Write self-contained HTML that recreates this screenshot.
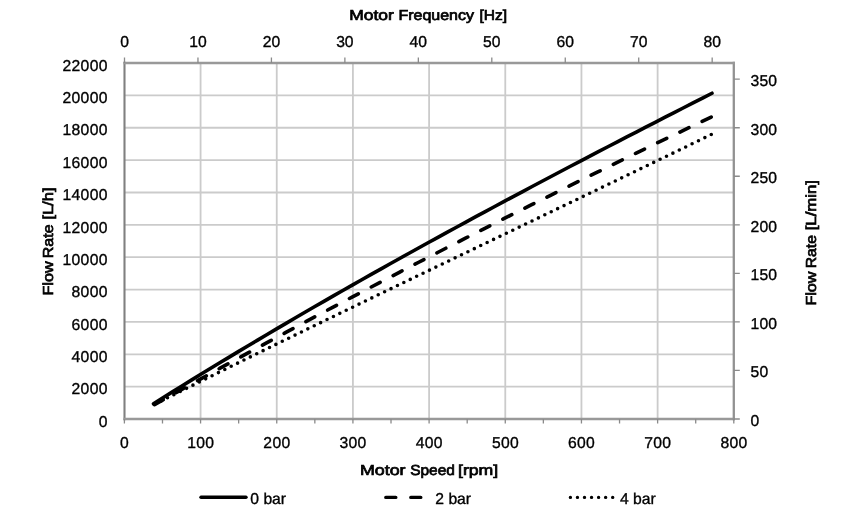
<!DOCTYPE html><html><head><meta charset="utf-8"><style>html,body{margin:0;padding:0;background:#fff;width:859px;height:513px;overflow:hidden}svg{display:block;will-change:transform}text{font-family:"Liberation Sans",sans-serif;text-rendering:geometricPrecision;fill:#000;stroke:#000;stroke-width:0.35px}</style></head><body>
<svg width="859" height="513" viewBox="0 0 859 513">
<rect width="859" height="513" fill="#fff"/>
<path d="M200.57,63.0 V419.0 M276.75,63.0 V419.0 M352.92,63.0 V419.0 M429.10,63.0 V419.0 M505.27,63.0 V419.0 M581.45,63.0 V419.0 M657.62,63.0 V419.0 M124.4,386.64 H733.8 M124.4,354.28 H733.8 M124.4,321.92 H733.8 M124.4,289.56 H733.8 M124.4,257.20 H733.8 M124.4,224.84 H733.8 M124.4,192.48 H733.8 M124.4,160.12 H733.8 M124.4,127.76 H733.8 M124.4,95.40 H733.8" stroke="#cbcbcb" stroke-width="1.8" fill="none"/>
<path d="M124.5,61.7 V420.25" stroke="#808080" stroke-width="2.1" fill="none"/>
<path d="M123.45,419 H734.9499999999999" stroke="#999" stroke-width="2.4" fill="none"/>
<path d="M733.8,61.7 V420.25" stroke="#929292" stroke-width="2.3" fill="none"/>
<path d="M123.45,63 H734.9499999999999" stroke="#999" stroke-width="2.4" fill="none"/>
<path d="M124.40,419.0 V423.5 M162.49,419.0 V423.5 M200.57,419.0 V423.5 M238.66,419.0 V423.5 M276.75,419.0 V423.5 M314.84,419.0 V423.5 M352.92,419.0 V423.5 M391.01,419.0 V423.5 M429.10,419.0 V423.5 M467.19,419.0 V423.5 M505.27,419.0 V423.5 M543.36,419.0 V423.5 M581.45,419.0 V423.5 M619.54,419.0 V423.5 M657.62,419.0 V423.5 M695.71,419.0 V423.5 M733.80,419.0 V423.5 M124.50,63.0 V57.5 M197.96,63.0 V57.5 M271.42,63.0 V57.5 M344.88,63.0 V57.5 M418.34,63.0 V57.5 M491.80,63.0 V57.5 M565.26,63.0 V57.5 M638.72,63.0 V57.5 M712.18,63.0 V57.5 M733.8,419.00 H739.8 M733.8,370.45 H739.8 M733.8,321.91 H739.8 M733.8,273.36 H739.8 M733.8,224.82 H739.8 M733.8,176.27 H739.8 M733.8,127.73 H739.8 M733.8,79.18 H739.8" stroke="#8a8a8a" stroke-width="1.3" fill="none"/>
<path d="M153.50,403.68 L162.97,397.75 L172.43,391.85 L181.90,385.98 L191.36,380.15 L200.83,374.34 L210.30,368.56 L219.76,362.81 L229.23,357.09 L238.69,351.40 L248.16,345.73 L257.63,340.09 L267.09,334.48 L276.56,328.89 L286.03,323.33 L295.49,317.80 L304.96,312.29 L314.42,306.80 L323.89,301.34 L333.36,295.91 L342.82,290.49 L352.29,285.10 L361.75,279.73 L371.22,274.39 L380.69,269.06 L390.15,263.76 L399.62,258.48 L409.08,253.22 L418.55,247.98 L428.02,242.76 L437.48,237.55 L446.95,232.37 L456.42,227.21 L465.88,222.06 L475.35,216.93 L484.81,211.82 L494.28,206.72 L503.75,201.64 L513.21,196.58 L522.68,191.54 L532.14,186.50 L541.61,181.49 L551.08,176.49 L560.54,171.50 L570.01,166.52 L579.47,161.56 L588.94,156.61 L598.41,151.68 L607.87,146.75 L617.34,141.84 L626.81,136.94 L636.27,132.05 L645.74,127.16 L655.20,122.29 L664.67,117.43 L674.14,112.58 L683.60,107.74 L693.07,102.90 L702.53,98.07 L712.00,93.25" stroke="#000" stroke-width="3.6" fill="none" stroke-linecap="round" stroke-linejoin="round"/>
<path d="M153.50,405.24 L162.95,399.94 L172.41,394.65 L181.86,389.38 L191.32,384.12 L200.77,378.89 L210.23,373.66 L219.68,368.45 L229.13,363.26 L238.59,358.08 L248.04,352.92 L257.50,347.77 L266.95,342.64 L276.41,337.52 L285.86,332.42 L295.31,327.33 L304.77,322.25 L314.22,317.19 L323.68,312.15 L333.13,307.12 L342.58,302.10 L352.04,297.10 L361.49,292.12 L370.95,287.14 L380.40,282.18 L389.86,277.24 L399.31,272.31 L408.76,267.39 L418.22,262.49 L427.67,257.60 L437.13,252.73 L446.58,247.86 L456.04,243.02 L465.49,238.18 L474.94,233.36 L484.40,228.55 L493.85,223.76 L503.31,218.98 L512.76,214.21 L522.22,209.46 L531.67,204.72 L541.12,199.99 L550.58,195.27 L560.03,190.57 L569.49,185.88 L578.94,181.20 L588.39,176.54 L597.85,171.89 L607.30,167.25 L616.76,162.62 L626.21,158.01 L635.67,153.41 L645.12,148.82 L654.57,144.24 L664.03,139.67 L673.48,135.12 L682.94,130.58 L692.39,126.05 L701.85,121.53 L711.30,117.03" stroke="#000" stroke-width="3.6" fill="none" stroke-linecap="round" stroke-dasharray="10 14.67" stroke-dashoffset="-1.12"/>
<path d="M153.50,404.79 L162.96,400.07 L172.43,395.36 L181.89,390.66 L191.35,385.96 L200.81,381.28 L210.28,376.61 L219.74,371.94 L229.20,367.28 L238.66,362.63 L248.13,357.99 L257.59,353.36 L267.05,348.73 L276.52,344.11 L285.98,339.50 L295.44,334.89 L304.90,330.29 L314.37,325.70 L323.83,321.11 L333.29,316.52 L342.75,311.94 L352.22,307.37 L361.68,302.80 L371.14,298.23 L380.61,293.67 L390.07,289.11 L399.53,284.55 L408.99,280.00 L418.46,275.45 L427.92,270.91 L437.38,266.36 L446.84,261.82 L456.31,257.28 L465.77,252.73 L475.23,248.20 L484.69,243.66 L494.16,239.12 L503.62,234.58 L513.08,230.04 L522.55,225.51 L532.01,220.97 L541.47,216.43 L550.93,211.89 L560.40,207.34 L569.86,202.80 L579.32,198.25 L588.78,193.71 L598.25,189.15 L607.71,184.60 L617.17,180.04 L626.64,175.48 L636.10,170.92 L645.56,166.35 L655.02,161.78 L664.49,157.20 L673.95,152.62 L683.41,148.03 L692.87,143.44 L702.34,138.84 L711.80,134.24" stroke="#000" stroke-width="3.6" fill="none" stroke-linecap="round" stroke-dasharray="0 7.108" stroke-dashoffset="-1.41"/>
<text x="107.85" y="426.70" text-anchor="end" font-size="15.7" letter-spacing="0.35">0</text>
<text x="107.85" y="394.34" text-anchor="end" font-size="15.7" letter-spacing="0.35">2000</text>
<text x="107.85" y="361.98" text-anchor="end" font-size="15.7" letter-spacing="0.35">4000</text>
<text x="107.85" y="329.62" text-anchor="end" font-size="15.7" letter-spacing="0.35">6000</text>
<text x="107.85" y="297.26" text-anchor="end" font-size="15.7" letter-spacing="0.35">8000</text>
<text x="107.85" y="264.90" text-anchor="end" font-size="15.7" letter-spacing="0.35">10000</text>
<text x="107.85" y="232.54" text-anchor="end" font-size="15.7" letter-spacing="0.35">12000</text>
<text x="107.85" y="200.18" text-anchor="end" font-size="15.7" letter-spacing="0.35">14000</text>
<text x="107.85" y="167.82" text-anchor="end" font-size="15.7" letter-spacing="0.35">16000</text>
<text x="107.85" y="135.46" text-anchor="end" font-size="15.7" letter-spacing="0.35">18000</text>
<text x="107.85" y="103.10" text-anchor="end" font-size="15.7" letter-spacing="0.35">20000</text>
<text x="107.85" y="70.74" text-anchor="end" font-size="15.7" letter-spacing="0.35">22000</text>
<text x="124.55" y="448.2" text-anchor="middle" font-size="15.7" letter-spacing="0.3">0</text>
<text x="200.72" y="448.2" text-anchor="middle" font-size="15.7" letter-spacing="0.3">100</text>
<text x="276.90" y="448.2" text-anchor="middle" font-size="15.7" letter-spacing="0.3">200</text>
<text x="353.07" y="448.2" text-anchor="middle" font-size="15.7" letter-spacing="0.3">300</text>
<text x="429.25" y="448.2" text-anchor="middle" font-size="15.7" letter-spacing="0.3">400</text>
<text x="505.42" y="448.2" text-anchor="middle" font-size="15.7" letter-spacing="0.3">500</text>
<text x="581.60" y="448.2" text-anchor="middle" font-size="15.7" letter-spacing="0.3">600</text>
<text x="657.77" y="448.2" text-anchor="middle" font-size="15.7" letter-spacing="0.3">700</text>
<text x="733.95" y="448.2" text-anchor="middle" font-size="15.7" letter-spacing="0.3">800</text>
<text x="124.50" y="47.4" text-anchor="middle" font-size="15.7">0</text>
<text x="197.96" y="47.4" text-anchor="middle" font-size="15.7">10</text>
<text x="271.42" y="47.4" text-anchor="middle" font-size="15.7">20</text>
<text x="344.88" y="47.4" text-anchor="middle" font-size="15.7">30</text>
<text x="418.34" y="47.4" text-anchor="middle" font-size="15.7">40</text>
<text x="491.80" y="47.4" text-anchor="middle" font-size="15.7">50</text>
<text x="565.26" y="47.4" text-anchor="middle" font-size="15.7">60</text>
<text x="638.72" y="47.4" text-anchor="middle" font-size="15.7">70</text>
<text x="712.18" y="47.4" text-anchor="middle" font-size="15.7">80</text>
<text x="750.6" y="425.90" font-size="15.7" letter-spacing="0.15">0</text>
<text x="750.6" y="377.35" font-size="15.7" letter-spacing="0.15">50</text>
<text x="750.6" y="328.81" font-size="15.7" letter-spacing="0.15">100</text>
<text x="750.6" y="280.26" font-size="15.7" letter-spacing="0.15">150</text>
<text x="750.6" y="231.72" font-size="15.7" letter-spacing="0.15">200</text>
<text x="750.6" y="183.17" font-size="15.7" letter-spacing="0.15">250</text>
<text x="750.6" y="134.63" font-size="15.7" letter-spacing="0.15">300</text>
<text x="750.6" y="86.08" font-size="15.7" letter-spacing="0.15">350</text>
<text x="349.22" y="19.5" font-size="14.5" style="stroke-width:0.7px" textLength="44.62" lengthAdjust="spacingAndGlyphs">Motor</text>
<text x="398.44" y="19.5" font-size="14.5" style="stroke-width:0.7px" textLength="75.54" lengthAdjust="spacingAndGlyphs">Frequency</text>
<text x="479.44" y="19.5" font-size="14.5" style="stroke-width:0.7px" textLength="27.61" lengthAdjust="spacingAndGlyphs">[Hz]</text>
<text x="359.99" y="474.5" font-size="14.5" style="stroke-width:0.7px" textLength="45.56" lengthAdjust="spacingAndGlyphs">Motor</text>
<text x="410.15" y="474.5" font-size="14.5" style="stroke-width:0.7px" textLength="44.70" lengthAdjust="spacingAndGlyphs">Speed</text>
<text x="457.99" y="474.5" font-size="14.5" style="stroke-width:0.7px" textLength="40.22" lengthAdjust="spacingAndGlyphs">[rpm]</text>
<text transform="translate(52.8,0) rotate(-90)" x="-295.47" y="0" font-size="14.5" style="stroke-width:0.7px" textLength="33.98" lengthAdjust="spacingAndGlyphs">Flow</text>
<text transform="translate(52.8,0) rotate(-90)" x="-258.16" y="0" font-size="14.5" style="stroke-width:0.7px" textLength="33.72" lengthAdjust="spacingAndGlyphs">Rate</text>
<text transform="translate(52.8,0) rotate(-90)" x="-219.42" y="0" font-size="14.5" style="stroke-width:0.7px" textLength="31.83" lengthAdjust="spacingAndGlyphs">[L/h]</text>
<text transform="translate(816.3,0) rotate(-90)" x="-305.57" y="0" font-size="14.5" style="stroke-width:0.7px" textLength="33.98" lengthAdjust="spacingAndGlyphs">Flow</text>
<text transform="translate(816.3,0) rotate(-90)" x="-268.24" y="0" font-size="14.5" style="stroke-width:0.7px" textLength="33.19" lengthAdjust="spacingAndGlyphs">Rate</text>
<text transform="translate(816.3,0) rotate(-90)" x="-230.34" y="0" font-size="14.5" style="stroke-width:0.7px" textLength="50.29" lengthAdjust="spacingAndGlyphs">[L/min]</text>
<path d="M201,497.3 H246" stroke="#000" stroke-width="3.4" stroke-linecap="round"/>
<path d="M385.8,497.4 H430.8" stroke="#000" stroke-width="3.4" stroke-linecap="round" stroke-dasharray="10 15"/>
<path d="M570.4,497.4 H615.2" stroke="#000" stroke-width="3.4" stroke-linecap="round" stroke-dasharray="0 7.05"/>
<text x="250.3" y="503.9" font-size="15.7">0 bar</text>
<text x="435.3" y="503.9" font-size="15.7">2 bar</text>
<text x="620" y="503.9" font-size="15.7">4 bar</text>
</svg></body></html>
